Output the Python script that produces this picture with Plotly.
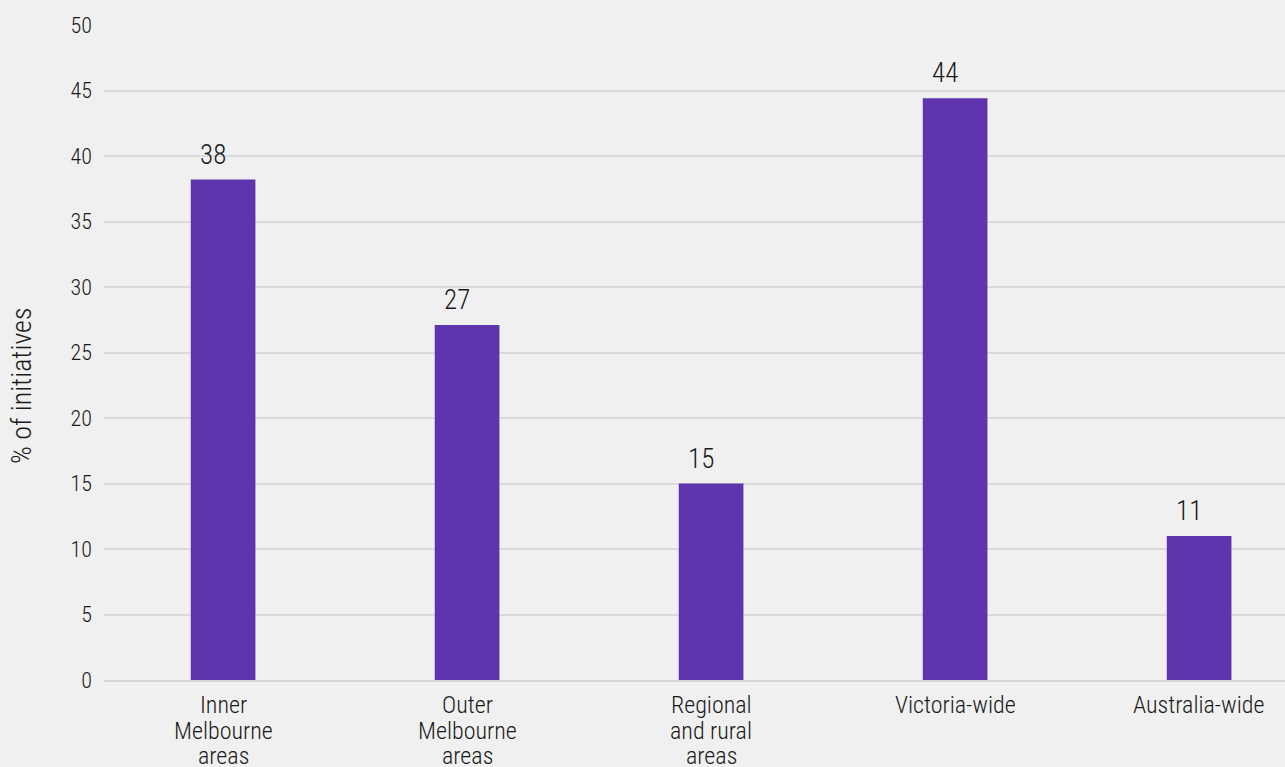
import plotly.graph_objects as go

categories = ["Inner<br>Melbourne<br>areas", "Outer<br>Melbourne<br>areas", "Regional<br>and rural<br>areas", "Victoria-wide", "Australia-wide"]
values = [38.2, 27.1, 15.0, 44.4, 11.0]
labels = ["38", "27", "15", "44", "11"]
y_ticks = [0, 5, 10, 15, 20, 25, 30, 35, 40, 45, 50]

FONT = "Roboto Condensed, Liberation Sans Narrow, DejaVu Sans Condensed, Roboto, sans-serif"
BG = "#eff0ef"
TXT = "#1a1a1a"
x = list(range(len(categories)))

fig = go.Figure()
fig.add_trace(go.Bar(x=x, y=values, width=0.265, marker=dict(color="#5e35ad", line=dict(width=0)),
                     hoverinfo="skip"))
for xi, v, lab in zip(x, values, labels):
    fig.add_annotation(x=xi, y=v, text=lab, showarrow=False, yanchor="bottom", yshift=7,
                       xanchor="right", xshift=5,
                       font=dict(family=FONT, size=27, color=TXT, weight=300))

# category labels, one annotation per line for tighter line spacing
for xi, cat in zip(x, categories):
    for i, line in enumerate(cat.split("<br>")):
        fig.add_annotation(x=xi, xref="x", y=0, yref="paper", text=line, showarrow=False,
                           yanchor="middle", yshift=-(25 + 25.5 * i),
                           font=dict(family=FONT, size=24, color=TXT, weight=300))

# y-axis title
fig.add_annotation(x=0, xref="paper", y=0.449, yref="paper", text="% of initiatives", textangle=-90,
                   showarrow=False, xanchor="center", yanchor="middle", xshift=-82,
                   font=dict(family=FONT, size=28, color=TXT, weight=300))

fig.update_layout(
    width=1285, height=767,
    paper_bgcolor=BG, plot_bgcolor=BG,
    margin=dict(l=104, r=0, t=25, b=87),
    showlegend=False,
    font=dict(family=FONT, size=20, color=TXT, weight=300),
    xaxis=dict(tickmode="array", tickvals=x, ticktext=categories, showticklabels=False,
               range=[-0.488, 4.352],
               showgrid=False, showline=True, linecolor="#d6d6d6", linewidth=2, ticks="",
               zeroline=False),
    yaxis=dict(tickmode="array", tickvals=y_ticks, range=[0, 50], showgrid=True, gridcolor="#dadada",
               gridwidth=1.5, zeroline=False, ticks="", ticklabelstandoff=11,
               tickfont=dict(family=FONT, size=22, color=TXT, weight=300)),
)

fig.write_html("out.html", config={"displayModeBar": False},
               post_script="document.body.style.margin='0';document.body.style.padding='0';")
